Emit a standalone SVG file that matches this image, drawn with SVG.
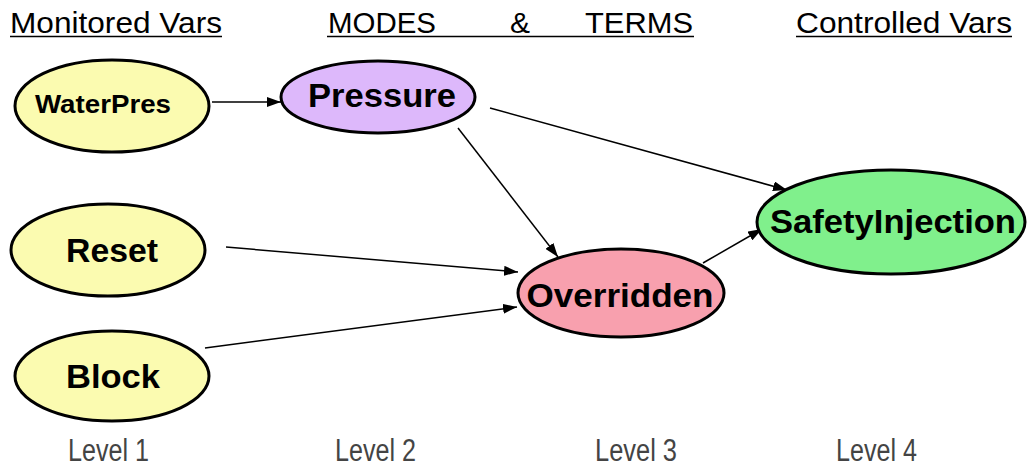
<svg xmlns="http://www.w3.org/2000/svg" width="1028" height="467" viewBox="0 0 1028 467">
  <defs>
    <marker id="arrow" viewBox="0 0 14 10" refX="14" refY="5" markerWidth="14" markerHeight="10" markerUnits="userSpaceOnUse" orient="auto">
      <path d="M0,0 L14,5 L0,10 Z" fill="#000"/>
    </marker>
  </defs>
  <style>
    .hdr { font-family: "Liberation Sans", Arial, sans-serif; font-size: 29px; fill: #000; }
    .uline { stroke: #000; stroke-width: 1.5; }
    .lvl { font-family: "Liberation Sans", Arial, sans-serif; font-size: 31px; fill: #444; }
    .node ellipse { stroke: #000; stroke-width: 3; }
    .node text { font-family: "Liberation Sans", Arial, sans-serif; font-weight: bold; fill: #000; text-anchor: middle; }
    .edge { stroke: #000; stroke-width: 1.5; fill: none; marker-end: url(#arrow); }
  </style>

  <rect width="1028" height="467" fill="#fff"/>

  <!-- column headings -->
  <g id="headings">
    <text class="hdr" x="10" y="33" textLength="212" lengthAdjust="spacingAndGlyphs">Monitored Vars</text>
    <line class="uline" x1="10" y1="36.5" x2="222" y2="36.5"/>
    <text class="hdr" x="328" y="33" textLength="108" lengthAdjust="spacingAndGlyphs">MODES</text>
    <text class="hdr" x="510" y="33" textLength="20" lengthAdjust="spacingAndGlyphs">&amp;</text>
    <text class="hdr" x="585" y="33" textLength="108" lengthAdjust="spacingAndGlyphs">TERMS</text>
    <line class="uline" x1="327" y1="36.5" x2="694" y2="36.5"/>
    <text class="hdr" x="796" y="33" textLength="216" lengthAdjust="spacingAndGlyphs">Controlled Vars</text>
    <line class="uline" x1="796" y1="36.5" x2="1012" y2="36.5"/>
  </g>

  <!-- level labels -->
  <g id="levels">
    <text class="lvl" x="68" y="461" textLength="81" lengthAdjust="spacingAndGlyphs">Level 1</text>
    <text class="lvl" x="335" y="461" textLength="81" lengthAdjust="spacingAndGlyphs">Level 2</text>
    <text class="lvl" x="595" y="461" textLength="82" lengthAdjust="spacingAndGlyphs">Level 3</text>
    <text class="lvl" x="836" y="461" textLength="81" lengthAdjust="spacingAndGlyphs">Level 4</text>
  </g>

  <!-- connectors -->
  <g id="connectors">
    <line class="edge" x1="212" y1="102" x2="281" y2="102"/>
    <line class="edge" x1="490" y1="108" x2="787" y2="190"/>
    <line class="edge" x1="458" y1="128" x2="558" y2="257"/>
    <line class="edge" x1="226" y1="247" x2="518" y2="272"/>
    <line class="edge" x1="205" y1="348" x2="517" y2="307"/>
    <line class="edge" x1="703" y1="263" x2="762" y2="229"/>
  </g>

  <!-- nodes -->
  <g id="WaterPres" class="node">
    <ellipse cx="112" cy="106" rx="97" ry="46" fill="#FBFBB0"/>
    <text x="103" y="113" font-size="26" textLength="136" lengthAdjust="spacingAndGlyphs">WaterPres</text>
  </g>
  <g id="Pressure" class="node">
    <ellipse cx="378" cy="97" rx="97" ry="36" fill="#DDB8FB"/>
    <text x="382" y="107" font-size="34" textLength="148" lengthAdjust="spacingAndGlyphs">Pressure</text>
  </g>
  <g id="Reset" class="node">
    <ellipse cx="108" cy="250" rx="97" ry="46" fill="#FBFBB0"/>
    <text x="112" y="262" font-size="34" textLength="92" lengthAdjust="spacingAndGlyphs">Reset</text>
  </g>
  <g id="Block" class="node">
    <ellipse cx="112" cy="376" rx="97" ry="45" fill="#FBFBB0"/>
    <text x="113" y="388" font-size="34" textLength="94" lengthAdjust="spacingAndGlyphs">Block</text>
  </g>
  <g id="Overridden" class="node">
    <ellipse cx="621" cy="293" rx="103" ry="44" fill="#F8A0AE"/>
    <text x="620" y="307" font-size="34" textLength="187" lengthAdjust="spacingAndGlyphs">Overridden</text>
  </g>
  <g id="SafetyInjection" class="node">
    <ellipse cx="891" cy="222" rx="134" ry="52" fill="#80F08C"/>
    <text x="893" y="233" font-size="34" textLength="246" lengthAdjust="spacingAndGlyphs">SafetyInjection</text>
  </g>
</svg>
